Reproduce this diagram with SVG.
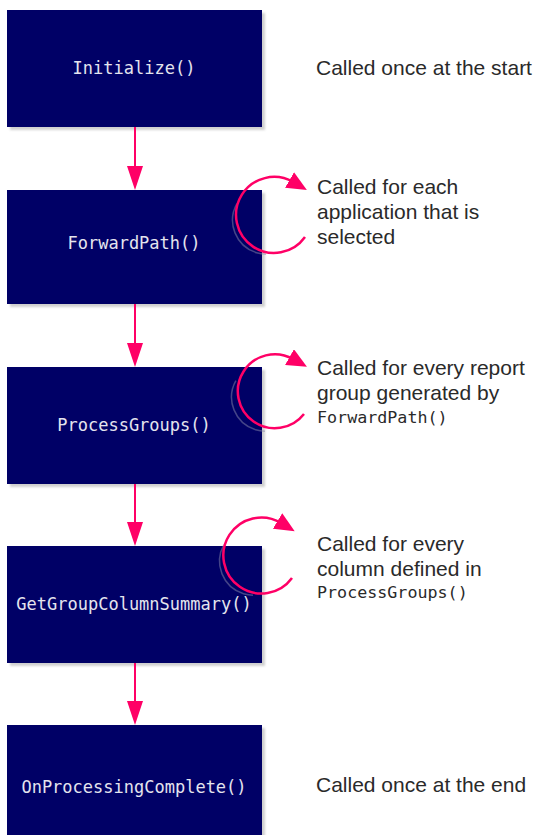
<svg xmlns="http://www.w3.org/2000/svg" width="538" height="835" viewBox="0 0 538 835">
<style>
.box{fill:#000066}
.shadow{fill:#999;opacity:0.45}
.lbl{font-family:"DejaVu Sans Mono","Liberation Mono",monospace;font-size:17px;fill:#e4e4ee;text-anchor:middle}
.note{font-family:"Liberation Sans",Arial,sans-serif;font-size:21px;fill:#2a2a2a}
.code{font-family:"DejaVu Sans Mono","Liberation Mono",monospace;font-size:16.7px;fill:#2a2a2a}
.conn{stroke:#ff0066;stroke-width:2;fill:none}
.loop{stroke:#ff0066;stroke-width:2.5;fill:none}
.loopsh{stroke:#8888aa;stroke-width:1.5;fill:none;opacity:0.5}
</style>
<defs>
<marker id="lh" markerUnits="userSpaceOnUse" markerWidth="20" markerHeight="18" refX="4" refY="9" orient="auto" viewBox="0 0 20 18">
<path d="M0,0 L20,9 L0,18 Z" fill="#ff0066"/>
</marker>
<filter id="blur" x="-10%" y="-10%" width="120%" height="120%"><feGaussianBlur stdDeviation="1.2"/></filter>
</defs>

<g id="n1">
<rect class="shadow" x="10" y="13" width="255" height="117" filter="url(#blur)"/>
<rect class="box" x="7" y="10" width="255" height="117"/>
<text class="lbl" x="134" y="74">Initialize()</text>
</g>
<g id="n2">
<rect class="shadow" x="10" y="193" width="255" height="114" filter="url(#blur)"/>
<rect class="box" x="7" y="190" width="255" height="114"/>
<text class="lbl" x="134" y="249">ForwardPath()</text>
</g>
<g id="n3">
<rect class="shadow" x="10" y="370" width="255" height="117" filter="url(#blur)"/>
<rect class="box" x="7" y="367" width="255" height="117"/>
<text class="lbl" x="134" y="431">ProcessGroups()</text>
</g>
<g id="n4">
<rect class="shadow" x="10" y="549" width="255" height="117" filter="url(#blur)"/>
<rect class="box" x="7" y="546" width="255" height="117"/>
<text class="lbl" x="134" y="610">GetGroupColumnSummary()</text>
</g>
<g id="n5">
<rect class="shadow" x="10" y="728" width="255" height="117" filter="url(#blur)"/>
<rect class="box" x="7" y="725" width="255" height="117"/>
<text class="lbl" x="134" y="793">OnProcessingComplete()</text>
</g>

<g id="connectors">
<line class="conn" x1="135" y1="127" x2="135" y2="176"/>
<polygon points="127,166 143,166 135,190" fill="#ff0066"/>
<line class="conn" x1="135" y1="304" x2="135" y2="352"/>
<polygon points="127,343 143,343 135,367" fill="#ff0066"/>
<line class="conn" x1="135" y1="484" x2="135" y2="531"/>
<polygon points="127,522 143,522 135,546" fill="#ff0066"/>
<line class="conn" x1="135" y1="663" x2="135" y2="710"/>
<polygon points="127,701 143,701 135,725" fill="#ff0066"/>
</g>

<g id="loops">
<path class="loopsh" d="M300,214 A34,34 0 1 1 299,210" stroke-dasharray="0 60 70 200"/>
<path class="loop" d="M305,237 A38,38 0 1 1 293,182" marker-end="url(#lh)"/>
<path class="loopsh" d="M299,391 A34,34 0 1 1 298,387" stroke-dasharray="0 60 70 200"/>
<path class="loop" d="M304,414 A37,37 0 1 1 293,359" marker-end="url(#lh)"/>
<path class="loopsh" d="M287,555 A34,34 0 1 1 286,551" stroke-dasharray="0 60 70 200"/>
<path class="loop" d="M292,578 A38,38 0 1 1 281,523" marker-end="url(#lh)"/>
</g>

<g id="notes">
<text class="note" x="316" y="75">Called once at the start</text>
<text class="note" x="317" y="194">Called for each</text>
<text class="note" x="317" y="219">application that is</text>
<text class="note" x="317" y="244">selected</text>
<text class="note" x="317" y="375">Called for every report</text>
<text class="note" x="317" y="400">group generated by</text>
<text class="code" x="317" y="423">ForwardPath()</text>
<text class="note" x="317" y="551">Called for every</text>
<text class="note" x="317" y="576">column defined in</text>
<text class="code" x="317" y="598">ProcessGroups()</text>
<text class="note" x="316" y="792">Called once at the end</text>
</g>
</svg>
